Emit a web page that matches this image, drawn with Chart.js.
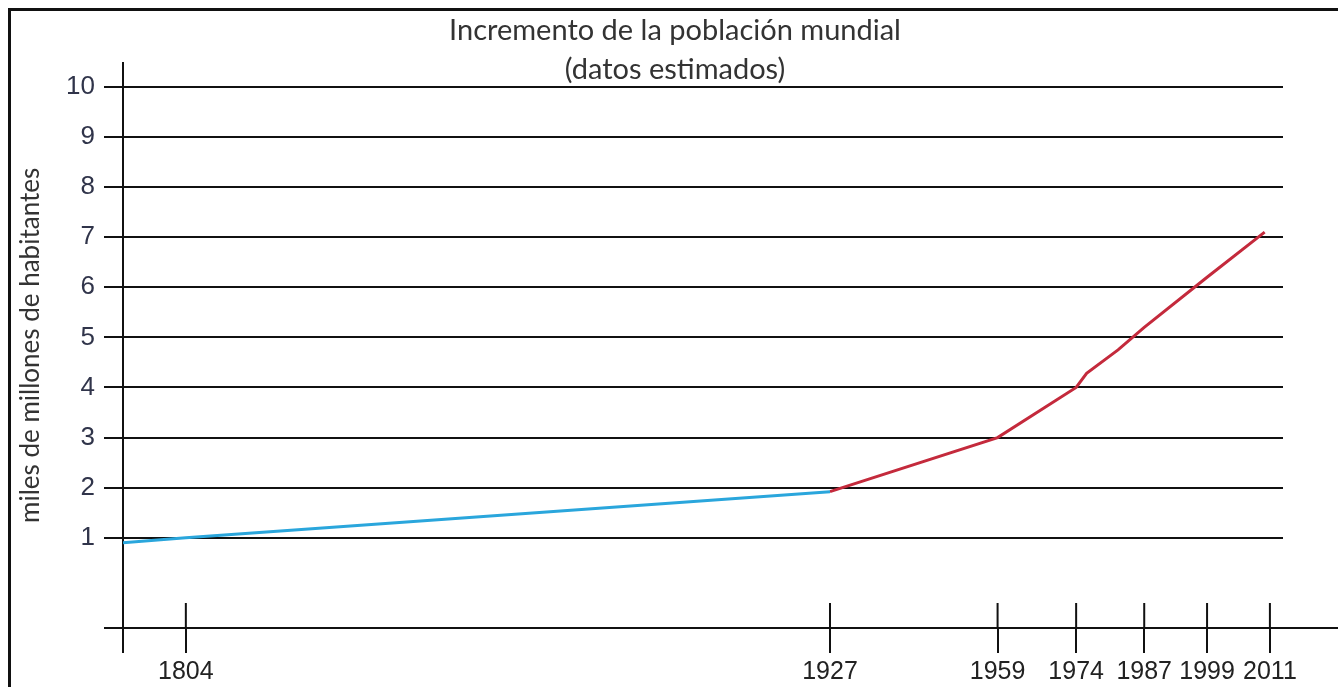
<!DOCTYPE html>
<html>
<head>
<meta charset="utf-8">
<script src="https://cdn.jsdelivr.net/npm/chart.js@4.4.1/dist/chart.umd.min.js"></script>
<style>
  body { margin: 0; background: #fff; }
  #wrap { width: 1338px; height: 687px; }
</style>
</head>
<body>
<div id="wrap"><canvas id="chart" width="1338" height="687"></canvas></div>
<script>
// values
const titleLines = ['Incremento de la población mundial', '(datos estimados)'];
const yTitle = 'miles de millones de habitantes';
const yearTicks = [1804, 1927, 1959, 1974, 1987, 1999, 2011];
const popTicks = [1, 2, 3, 4, 5, 6, 7, 8, 9, 10];

const blueYears = [1792, 1804, 1927];
const blueValues = [0.9, 1.0, 1.92];
const redYears = [1927, 1959, 1974, 1976, 1982, 1987, 1999, 2010];
const redValues = [1.92, 3.0, 4.0, 4.28, 4.75, 5.2, 6.2, 7.1];

function toPoints(xs, ys) {
  return xs.map((x, i) => ({ x: x, y: ys[i] }));
}

// frame, x axis line and the tick crosses
const axisDecor = {
  id: 'axisDecor',
  beforeDraw(chart) {
    const ctx = chart.ctx;
    ctx.save();
    ctx.fillStyle = '#fff';
    ctx.fillRect(0, 0, chart.width, chart.height);
    ctx.strokeStyle = '#111';
    ctx.lineWidth = 3;
    ctx.beginPath();
    ctx.moveTo(9.5, chart.height);
    ctx.lineTo(9.5, 9.5);
    ctx.lineTo(chart.width, 9.5);
    ctx.stroke();
    ctx.restore();
  },
  afterDraw(chart) {
    const ctx = chart.ctx;
    const area = chart.chartArea;
    const xs = chart.scales.x;
    ctx.save();
    ctx.strokeStyle = '#111';
    ctx.lineWidth = 2;
    ctx.beginPath();
    ctx.moveTo(area.left - 19, area.bottom);
    ctx.lineTo(chart.width, area.bottom);
    // y axis runs a bit past the x axis
    ctx.moveTo(area.left, area.bottom);
    ctx.lineTo(area.left, area.bottom + 25);
    xs.ticks.forEach((t) => {
      const px = xs.getPixelForValue(t.value);
      ctx.moveTo(px, area.bottom - 25);
      ctx.lineTo(px, area.bottom);
    });
    ctx.stroke();
    ctx.restore();
  }
};

new Chart(document.getElementById('chart'), {
  type: 'line',
  data: {
    datasets: [{
      data: toPoints(blueYears, blueValues),
      borderColor: '#2aa6dc',
      borderWidth: 3,
      pointRadius: 0,
      tension: 0
    }, {
      data: toPoints(redYears, redValues),
      borderColor: '#c42a3c',
      borderWidth: 3,
      pointRadius: 0,
      tension: 0
    }]
  },
  options: {
    responsive: false,
    animation: false,
    devicePixelRatio: 1,
    layout: { padding: { left: 12, right: 0, top: 0, bottom: 0 } },
    plugins: {
      legend: { display: false },
      tooltip: { enabled: false },
      title: {
        display: true,
        text: titleLines,
        color: '#333',
        font: { family: 'Lato', size: 29, weight: 'normal', lineHeight: 1.34 },
        padding: { top: 11, bottom: -26 }
      }
    },
    scales: {
      x: {
        type: 'linear',
        min: 1792,
        max: 2013.5,
        afterBuildTicks: (scale) => {
          scale.ticks = yearTicks.map((v) => ({ value: v }));
        },
        afterFit: (scale) => { scale.height = 59; },
        border: { display: false },
        grid: {
          drawOnChartArea: false,
          drawTicks: true,
          tickLength: 25,
          color: '#111',
          lineWidth: 2
        },
        ticks: {
          autoSkip: false,
          maxRotation: 0,
          padding: 4,
          color: '#222',
          font: { family: 'Liberation Sans', size: 25 },
          callback: (v) => String(v)
        }
      },
      y: {
        min: -0.8,
        max: 10.48,
        afterBuildTicks: (scale) => {
          scale.ticks = popTicks.map((v) => ({ value: v }));
        },
        afterFit: (scale) => { scale.width = 111; },
        border: { display: true, color: '#111', width: 2 },
        grid: {
          color: '#111',
          lineWidth: 2,
          drawTicks: true,
          tickLength: 19
        },
        ticks: {
          padding: 9,
          color: '#30344a',
          font: { family: 'Liberation Sans', size: 26 },
          callback: (v) => String(v)
        },
        title: {
          display: true,
          text: yTitle,
          color: '#333',
          font: { family: 'Lato', size: 26, lineHeight: 1.2 },
          padding: { top: 3, bottom: 0 }
        }
      },
      // empty box on the right so the grid stops short of the edge
      spacer: {
        type: 'linear',
        position: 'right',
        afterFit: (scale) => { scale.width = 55; },
        border: { display: false },
        grid: { display: false },
        ticks: { display: false }
      }
    }
  },
  plugins: [axisDecor]
});
</script>
</body>
</html>
